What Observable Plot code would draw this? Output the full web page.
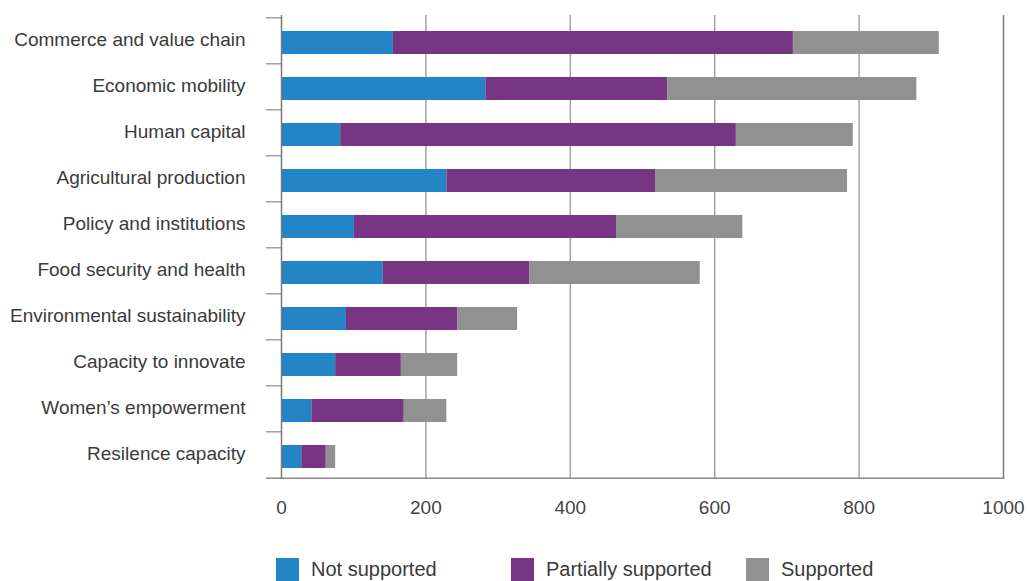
<!DOCTYPE html>
<html><head><meta charset="utf-8">
<script src="https://cdn.jsdelivr.net/npm/d3@7"></script>
<script src="https://cdn.jsdelivr.net/npm/@observablehq/plot@0.6"></script>
<style>
body{margin:0;background:#fff;font-family:"Liberation Sans",Arial,sans-serif;}
#wrap{position:relative;width:1028px;height:581px;overflow:hidden;background:#fff}
.legend{position:absolute;left:276px;top:558px;display:flex}
.item{width:235px;display:flex;align-items:center;font-size:20px;color:#3a3a3a;line-height:23px}
.sw{width:23px;height:23px;margin-right:12px;flex:none}
</style></head><body><div id="wrap"></div>
<script>
const categories = ["Commerce and value chain","Economic mobility","Human capital","Agricultural production","Policy and institutions","Food security and health","Environmental sustainability","Capacity to innovate","Women\u2019s empowerment","Resilence capacity"];
const notSupported = [155, 283, 82, 229, 101, 141, 90, 75, 42, 28];
const partiallySupported = [554, 252, 548, 289, 363, 203, 154, 91, 128, 34];
const supported = [202, 345, 162, 266, 175, 236, 83, 78, 59, 13];
const seriesNames = ["Not supported","Partially supported","Supported"];
const seriesColors = ["#2384c6","#783584","#919191"];
const xTicks = [0, 200, 400, 600, 800, 1000];

const seriesValues = [notSupported, partiallySupported, supported];
const data = categories.flatMap((c, i) => seriesNames.map((s, j) => ({category: c, status: s, value: seriesValues[j][i]})));

const W = 1028, H = 535, mT = 15, mB = 56, mL = 281, mR = 25;
const n = categories.length;
const step = (H - mT - mB) / n;
const font = '"Liberation Sans", Arial, sans-serif';

const chart = Plot.plot({
  width: W, height: H, marginTop: mT, marginBottom: mB, marginLeft: mL, marginRight: mR,
  style: {fontFamily: font, fontSize: "19px", color: "#3a3a3a", background: "#fff", overflow: "visible"},
  x: {domain: [0, 1000], label: null},
  y: {domain: categories, paddingInner: 0.5, paddingOuter: 0.25, label: null},
  color: {domain: seriesNames, range: seriesColors},
  marks: [
    Plot.ruleX(xTicks.slice(1, -1), {stroke: "#a3a3a3", strokeWidth: 1.5}),
    Plot.ruleX(xTicks.slice(-1), {stroke: "#7a7a7a", strokeWidth: 1.5}),
    Plot.barX(data, Plot.stackX({x: "value", y: "category", fill: "status", order: seriesNames, dy: 2})),
    Plot.ruleY(categories, {y: d => d, dy: -step / 2, insetLeft: -15, insetRight: W - mL - mR, stroke: "#8a8a8a", strokeWidth: 1.2}),
    Plot.ruleY(categories.slice(-1), {y: d => d, dy: step / 2, insetLeft: -15, stroke: "#8a8a8a", strokeWidth: 1.5}),
    Plot.ruleX(xTicks.slice(0, 1), {stroke: "#7a7a7a", strokeWidth: 1.5}),
    Plot.axisX({anchor: "bottom", ticks: xTicks, tickFormat: d => String(d), tickSize: 0, tickPadding: 21, fontSize: 19, fill: "#444", label: null}),
    Plot.axisY({anchor: "left", tickSize: 0, tickPadding: 36, fontSize: 19, fill: "#3a3a3a", dy: -1.5, label: null})
  ]
});
const wrap = document.getElementById("wrap");
wrap.appendChild(chart);
const legend = document.createElement("div");
legend.className = "legend";
seriesNames.forEach((s, i) => {
  const it = document.createElement("div");
  it.className = "item";
  const sw = document.createElement("span");
  sw.className = "sw";
  sw.style.background = seriesColors[i];
  it.appendChild(sw);
  it.appendChild(document.createTextNode(s));
  legend.appendChild(it);
});
wrap.appendChild(legend);
</script></body></html>
